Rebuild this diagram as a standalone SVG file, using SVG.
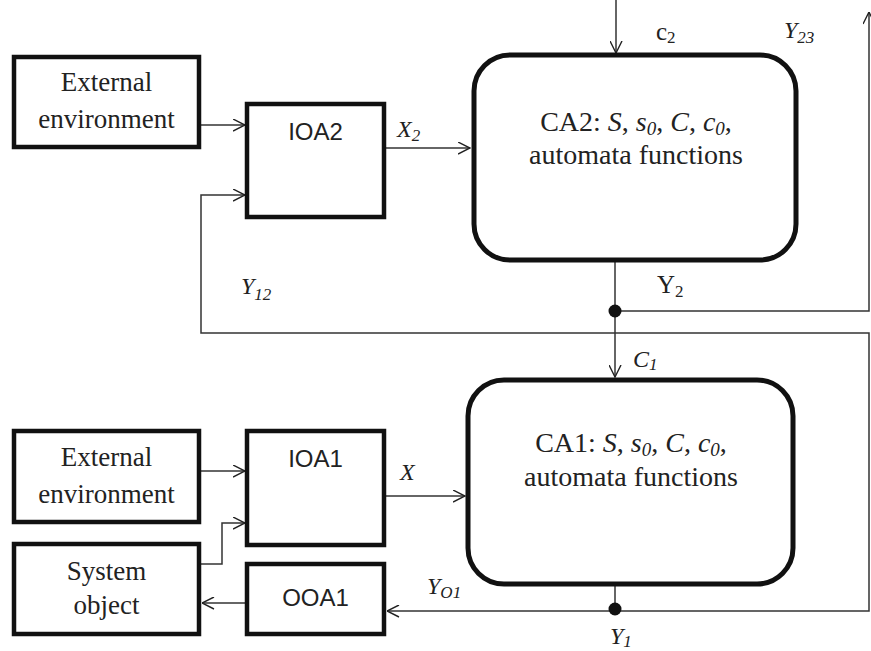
<svg xmlns="http://www.w3.org/2000/svg" width="871" height="651" viewBox="0 0 871 651">
<defs>
<marker id="arr" viewBox="0 0 13 13" refX="12.5" refY="6.5" markerWidth="13" markerHeight="13" markerUnits="userSpaceOnUse" orient="auto">
<path d="M0.5,0.5 L12.5,6.5 L0.5,12.5" fill="none" stroke="#222" stroke-width="1.4"/>
</marker>
<style>
.box{fill:#fff;stroke:#111;stroke-width:4.5}
.ca{fill:#fff;stroke:#111;stroke-width:5}
.serif{font-family:"Liberation Serif","Times New Roman",serif;fill:#222}
.sans{font-family:"Liberation Sans",Arial,sans-serif;fill:#222}
.bt{font-size:27px}
.ct{font-size:28px}
.lb{font-size:24px;font-style:italic}
.sub{font-size:17px}
.csub{font-size:19px;font-style:italic}
.it{font-style:italic}
.ln{fill:none;stroke:#333;stroke-width:1.5}
.dot{fill:#111}
</style>
</defs>
<rect width="871" height="651" fill="#fff"/>

<g id="connectors">
<path class="ln" d="M616,0 V53" marker-end="url(#arr)"/>
<path class="ln" d="M200,125 H245" marker-end="url(#arr)"/>
<path class="ln" d="M385,148 H470" marker-end="url(#arr)"/>
<path class="ln" d="M615,260 V377" marker-end="url(#arr)"/>
<path class="ln" d="M615,311 H869 V12" marker-end="url(#arr)"/>
<path class="ln" d="M615,584 V611"/>
<path class="ln" d="M615,611 H387" marker-end="url(#arr)"/>
<path class="ln" d="M615,611 H869 V333 H201 V195 H245" marker-end="url(#arr)"/>
<path class="ln" d="M385,496 H465" marker-end="url(#arr)"/>
<path class="ln" d="M200,471 H245" marker-end="url(#arr)"/>
<path class="ln" d="M200,564 H222 V523 H245" marker-end="url(#arr)"/>
<path class="ln" d="M246,603 H202" marker-end="url(#arr)"/>
<circle class="dot" cx="615" cy="311" r="6.5"/>
<circle class="dot" cx="615" cy="609" r="6.5"/>
</g>

<g id="ext-env-2">
<rect class="box" x="14" y="57" width="185" height="90"/>
<text class="serif bt" x="106.5" y="91" text-anchor="middle">External</text>
<text class="serif bt" x="106.5" y="128" text-anchor="middle">environment</text>
</g>

<g id="ioa2">
<rect class="box" x="247" y="104" width="137" height="113"/>
<text class="sans" font-size="24" x="315.5" y="140" text-anchor="middle">IOA2</text>
</g>

<g id="ca2">
<rect class="ca" x="474" y="55" width="322" height="205" rx="36" ry="36"/>
<text class="serif ct" x="636" y="131" text-anchor="middle">CA2: <tspan class="it">S</tspan>, <tspan class="it">s</tspan><tspan class="csub" dy="4">0</tspan><tspan dy="-4">, </tspan><tspan class="it">C</tspan>, <tspan class="it">c</tspan><tspan class="csub" dy="4">0</tspan><tspan dy="-4">,</tspan></text>
<text class="serif ct" x="636" y="164" text-anchor="middle">automata functions</text>
</g>

<g id="ext-env-1">
<rect class="box" x="14" y="431" width="185" height="91"/>
<text class="serif bt" x="106.5" y="466" text-anchor="middle">External</text>
<text class="serif bt" x="106.5" y="503" text-anchor="middle">environment</text>
</g>

<g id="system-object">
<rect class="box" x="14" y="544" width="185" height="90"/>
<text class="serif bt" x="106.5" y="580" text-anchor="middle">System</text>
<text class="serif bt" x="106.5" y="614" text-anchor="middle">object</text>
</g>

<g id="ioa1">
<rect class="box" x="247" y="431" width="137" height="114"/>
<text class="sans" font-size="24" x="315.5" y="467" text-anchor="middle">IOA1</text>
</g>

<g id="ooa1">
<rect class="box" x="247" y="564" width="137" height="70"/>
<text class="sans" font-size="24" x="315.5" y="606" text-anchor="middle">OOA1</text>
</g>

<g id="ca1">
<rect class="ca" x="468" y="380" width="325" height="204" rx="36" ry="36"/>
<text class="serif ct" x="631" y="452" text-anchor="middle">CA1: <tspan class="it">S</tspan>, <tspan class="it">s</tspan><tspan class="csub" dy="4">0</tspan><tspan dy="-4">, </tspan><tspan class="it">C</tspan>, <tspan class="it">c</tspan><tspan class="csub" dy="4">0</tspan><tspan dy="-4">,</tspan></text>
<text class="serif ct" x="631" y="486" text-anchor="middle">automata functions</text>
</g>

<g id="labels">
<text class="serif" font-size="25" x="656" y="40">c<tspan class="sub" dy="3">2</tspan></text>
<text class="serif lb" x="784" y="38">Y<tspan class="sub" dy="5">23</tspan></text>
<text class="serif lb" x="397" y="137">X<tspan class="sub" dy="4">2</tspan></text>
<text class="serif" font-size="25" x="657" y="293">Y<tspan class="sub" dy="4">2</tspan></text>
<text class="serif lb" x="241" y="294">Y<tspan class="sub" dy="6">12</tspan></text>
<text class="serif lb" x="633" y="367">C<tspan class="sub" dy="3">1</tspan></text>
<text class="serif lb" x="400" y="480">X</text>
<text class="serif lb" x="427" y="594">Y<tspan class="sub" dy="4">O1</tspan></text>
<text class="serif lb" x="610" y="644">Y<tspan class="sub" dy="3">1</tspan></text>
</g>
</svg>
